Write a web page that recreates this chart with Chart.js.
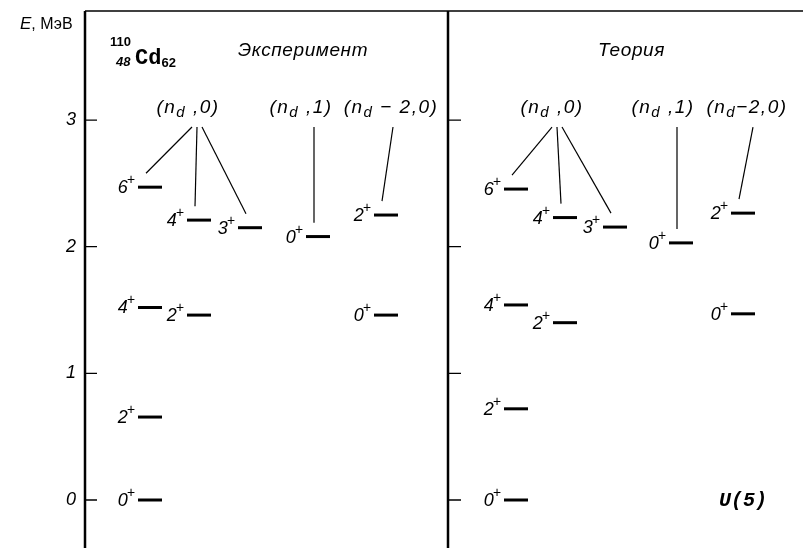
<!DOCTYPE html>
<html>
<head>
<meta charset="utf-8">
<script src="https://cdn.jsdelivr.net/npm/chart.js@4/dist/chart.umd.min.js"></script>
<style>
html, body { margin: 0; padding: 0; background: #fff; }
#wrap { width: 803px; height: 548px; position: relative; }
</style>
</head>
<body>
<div id="wrap"><canvas id="levels"></canvas></div>
<script>
// 110Cd levels: spin, column in the panel, band it belongs to (-1 = none)
const spins = ['0', '2', '4', '2', '0', '6', '4', '3', '0', '2'];
const columns = [0, 0, 0, 1, 4, 0, 1, 2, 3, 4];
const bands = [-1, -1, -1, -1, -1, 0, 0, 0, 1, 2];
// energies, MeV
const expEnergy = [0, 0.655, 1.52, 1.46, 1.46, 2.47, 2.21, 2.15, 2.08, 2.25];
const theoryEnergy = [0, 0.72, 1.54, 1.40, 1.47, 2.455, 2.23, 2.155, 2.03, 2.265];
const yTicks = [0, 1, 2, 3];
const bandTop = 2.945;

const panels = [
  {
    title: 'Эксперимент', titleX: 153,
    energy: expEnergy,
    cols: [65, 114, 165, 233, 301],
    bandLabel: [103, 216, 306], anchor: [112, 229, 308],
    bandNames: [['(n', 'd', ' ,0)'], ['(n', 'd', ' ,1)'], ['(n', 'd', ' − 2,0)']]
  },
  {
    title: 'Теория', titleX: 513,
    energy: theoryEnergy,
    cols: [431, 480, 530, 596, 658],
    bandLabel: [467, 578, 662], anchor: [472, 592, 668],
    bandNames: [['(n', 'd', ' ,0)'], ['(n', 'd', ' ,1)'], ['(n', 'd', '−2,0)']]
  }
];
const divider = 363;
const half = 12;

const datasets = [];
panels.forEach(p => {
  const fan = [0, 0, 0];
  p.energy.forEach((e, i) => {
    const cx = p.cols[columns[i]];
    datasets.push({
      data: [{x: cx - half, y: e}, {x: cx + half, y: e}],
      showLine: true, borderColor: '#000', borderWidth: 3, pointRadius: 0
    });
    const b = bands[i];
    if (b >= 0) {
      const spread = b === 0 ? [-5, 0, 5][fan[b]++] : 0;
      datasets.push({
        data: [{x: p.anchor[b] + spread, y: bandTop}, {x: cx - 4, y: e + 0.11}],
        showLine: true, borderColor: '#000', borderWidth: 1.2, pointRadius: 0
      });
    }
  });
});

const it = s => `italic ${s}px "Liberation Sans"`;

function drawParts(ctx, parts, x, y, align) {
  let w = 0;
  parts.forEach(p => { ctx.font = p.f; w += ctx.measureText(p.t).width; });
  let cx = align === 'center' ? x - w / 2 : align === 'right' ? x - w : x;
  ctx.textAlign = 'left';
  ctx.textBaseline = 'alphabetic';
  parts.forEach(p => {
    ctx.font = p.f;
    ctx.fillText(p.t, cx, y + (p.dy || 0));
    cx += ctx.measureText(p.t).width;
  });
}

const diagram = {
  id: 'diagram',
  afterDatasetsDraw(chart) {
    const {ctx, chartArea: a, scales: {x, y}} = chart;
    ctx.save();
    ctx.strokeStyle = '#000';
    ctx.fillStyle = '#000';

    // frame: top edge, left axis, panel divider
    ctx.lineWidth = 1.5;
    ctx.beginPath();
    ctx.moveTo(a.left, a.top); ctx.lineTo(a.right, a.top);
    ctx.stroke();
    ctx.lineWidth = 2.5;
    const xd = x.getPixelForValue(divider);
    ctx.beginPath();
    ctx.moveTo(a.left, a.top); ctx.lineTo(a.left, a.bottom);
    ctx.moveTo(xd, a.top); ctx.lineTo(xd, a.bottom);
    ctx.stroke();

    // inward ticks on both panel edges
    ctx.lineWidth = 1.3;
    yTicks.forEach(v => {
      const py = y.getPixelForValue(v);
      ctx.beginPath();
      ctx.moveTo(a.left, py); ctx.lineTo(a.left + 12, py);
      ctx.moveTo(xd, py); ctx.lineTo(xd + 13, py);
      ctx.stroke();
    });

    // axis title
    drawParts(ctx, [{t: 'E', f: it(17)}, {t: ', МэВ', f: '16px "Liberation Sans"'}], 20, 29, 'left');

    // nucleus
    drawParts(ctx, [{t: '110', f: 'bold 13px "Liberation Sans"'}], 110, 46, 'left');
    drawParts(ctx, [{t: '48', f: 'bold italic 13px "Liberation Sans"'}], 116, 66, 'left');
    drawParts(ctx, [{t: 'Cd', f: 'bold 22px "Liberation Mono"'}, {t: '62', f: 'bold 13px "Liberation Sans"', dy: 3}], 135, 64, 'left');

    panels.forEach(p => {
      ctx.save();
      ctx.letterSpacing = '0.6px';
      drawParts(ctx, [{t: p.title, f: it(19)}], x.getPixelForValue(p.titleX), 56, 'left');
      ctx.restore();

      ctx.save();
      ctx.letterSpacing = '1.5px';
      p.bandNames.forEach((n, b) => {
        drawParts(ctx, [
          {t: n[0], f: it(19)},
          {t: n[1], f: it(15), dy: 4},
          {t: n[2], f: it(19)}
        ], x.getPixelForValue(p.bandLabel[b]), y.getPixelForValue(3) - 7, 'center');
      });
      ctx.restore();

      p.energy.forEach((e, i) => {
        const xr = x.getPixelForValue(p.cols[columns[i]] - half) - 3;
        const py = y.getPixelForValue(e);
        ctx.font = it(14);
        const pw = ctx.measureText('+').width;
        drawParts(ctx, [{t: '+', f: it(14)}], xr - pw, py - 3, 'left');
        drawParts(ctx, [{t: spins[i], f: it(18)}], xr - pw + 1, py + 6, 'right');
      });
    });

    drawParts(ctx, [{t: 'U(5)', f: 'bold italic 20px "Liberation Mono"'}], x.getPixelForValue(658), 506, 'center');
    ctx.restore();
  }
};

new Chart('levels', {
  type: 'scatter',
  data: {datasets},
  options: {
    responsive: true,
    maintainAspectRatio: false,
    animation: false,
    layout: {padding: {top: 11, left: 0, right: 0, bottom: 0}},
    plugins: {legend: {display: false}, tooltip: {enabled: false}},
    scales: {
      x: {type: 'linear', display: false, min: 0, max: 718},
      y: {
        type: 'linear', min: -0.379, max: 3.861,
        afterFit(s) { s.width = 85; s.paddingTop = 0; s.paddingBottom = 0; },
        grid: {display: false, drawTicks: false},
        border: {display: false},
        ticks: {
          stepSize: 1, includeBounds: false, padding: 9, color: '#000',
          font: {family: 'Liberation Sans', style: 'italic', size: 18},
          callback: v => yTicks.includes(v) ? String(v) : ''
        }
      }
    }
  },
  plugins: [diagram]
});
</script>
</body>
</html>
